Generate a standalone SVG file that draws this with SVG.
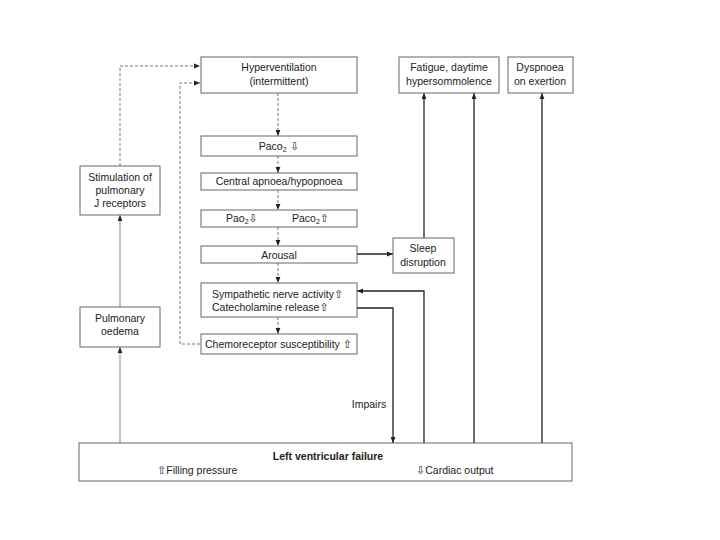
<svg xmlns="http://www.w3.org/2000/svg" width="720" height="540" viewBox="0 0 720 540">
<style>
.box{fill:#fff;stroke:#666;stroke-width:1}
.t{font-family:"Liberation Sans",Arial,sans-serif;font-size:10.5px;fill:#222}
.c{text-anchor:middle}
.b{font-weight:bold}
.sym{font-family:"DejaVu Sans",sans-serif;font-size:11px}
.solid{fill:none;stroke:#222;stroke-width:1.3}
.grey{fill:none;stroke:#999;stroke-width:1.1}
.dash{fill:none;stroke:#777;stroke-width:1;stroke-dasharray:3,2}
</style>
<defs>
<marker id="ah" viewBox="0 0 10 10" refX="10" refY="5" markerWidth="7" markerHeight="6" markerUnits="userSpaceOnUse" orient="auto"><path d="M0,1 L10,5 L0,9 z" fill="#222"/></marker>
</defs>
<rect width="720" height="540" fill="#fff"/>
<g id="connectors">
<path class="dash" d="M120,166 V66 H200" marker-end="url(#ah)"/>
<path class="dash" d="M200,344 H180 V83 H200" marker-end="url(#ah)"/>
<path class="dash" d="M278,93 V136" marker-end="url(#ah)"/>
<path class="dash" d="M278,156 V173" marker-end="url(#ah)"/>
<path class="dash" d="M278,190 V210" marker-end="url(#ah)"/>
<path class="dash" d="M278,227 V246" marker-end="url(#ah)"/>
<path class="dash" d="M278,263 V283" marker-end="url(#ah)"/>
<path class="dash" d="M278,317 V334" marker-end="url(#ah)"/>
<path class="solid" d="M357,254 H393" marker-end="url(#ah)"/>
<path class="solid" d="M424,238 V93" marker-end="url(#ah)"/>
<path class="solid" d="M424,443 V291 H357" marker-end="url(#ah)"/>
<path class="solid" d="M357,308 H393 V443" marker-end="url(#ah)"/>
<path class="solid" d="M474,443 V93" marker-end="url(#ah)"/>
<path class="solid" d="M542,443 V93" marker-end="url(#ah)"/>
<path class="grey" d="M120,443 V347" marker-end="url(#ah)"/>
<path class="grey" d="M120,307 V215" marker-end="url(#ah)"/>
<text class="t" x="369" y="408" text-anchor="middle">Impairs</text>
</g>
<g id="hyperventilation"><rect class="box" x="201" y="57" width="156" height="36"/>
<text class="t c" x="279" y="71">Hyperventilation</text><text class="t c" x="279" y="85">(intermittent)</text></g>
<g id="paco2-down"><rect class="box" x="201" y="136" width="156" height="20"/>
<text class="t c" x="279" y="150">Paco<tspan font-size="7" dy="2">2</tspan><tspan dy="-2" class="sym"> ⇩</tspan></text></g>
<g id="central-apnoea"><rect class="box" x="201" y="173" width="156" height="17"/>
<text class="t c" x="279" y="185">Central apnoea/hypopnoea</text></g>
<g id="pao2-paco2"><rect class="box" x="201" y="210" width="156" height="17"/>
<text class="t" x="226" y="222">Pao<tspan font-size="7" dy="2">2</tspan><tspan dy="-2" class="sym">⇩</tspan></text>
<text class="t" x="292" y="222">Paco<tspan font-size="7" dy="2">2</tspan><tspan dy="-2" class="sym">⇧</tspan></text></g>
<g id="arousal"><rect class="box" x="201" y="246" width="156" height="17"/>
<text class="t c" x="279" y="259">Arousal</text></g>
<g id="sympathetic"><rect class="box" x="201" y="283" width="156" height="34"/>
<text class="t" x="212" y="298">Sympathetic nerve activity<tspan class="sym">⇧</tspan></text>
<text class="t" x="212" y="311">Catecholamine release<tspan class="sym">⇧</tspan></text></g>
<g id="chemoreceptor"><rect class="box" x="201" y="334" width="156" height="20"/>
<text class="t" x="205" y="348">Chemoreceptor susceptibility <tspan class="sym">⇧</tspan></text></g>
<g id="stimulation"><rect class="box" x="80" y="166" width="80" height="49"/>
<text class="t c" x="120" y="181">Stimulation of</text><text class="t c" x="120" y="194">pulmonary</text><text class="t c" x="120" y="207">J receptors</text></g>
<g id="pulmonary-oedema"><rect class="box" x="80" y="307" width="80" height="40"/>
<text class="t c" x="120" y="322">Pulmonary</text><text class="t c" x="120" y="335">oedema</text></g>
<g id="sleep"><rect class="box" x="393" y="238" width="61" height="35"/>
<text class="t c" x="423" y="252">Sleep</text><text class="t c" x="423" y="266">disruption</text></g>
<g id="fatigue"><rect class="box" x="399" y="57" width="100" height="36"/>
<text class="t c" x="449" y="71">Fatigue, daytime</text><text class="t c" x="449" y="85">hypersommolence</text></g>
<g id="dyspnoea"><rect class="box" x="508" y="57" width="65" height="36"/>
<text class="t c" x="540" y="71">Dyspnoea</text><text class="t c" x="540" y="85">on exertion</text></g>
<g id="lvf"><rect class="box" x="79" y="443" width="493" height="38"/>
<text class="t c b" x="328" y="460">Left ventricular failure</text>
<text class="t" x="157" y="474"><tspan class="sym">⇧</tspan>Filling pressure</text>
<text class="t" x="416" y="474"><tspan class="sym">⇩</tspan>Cardiac output</text></g>
</svg>
